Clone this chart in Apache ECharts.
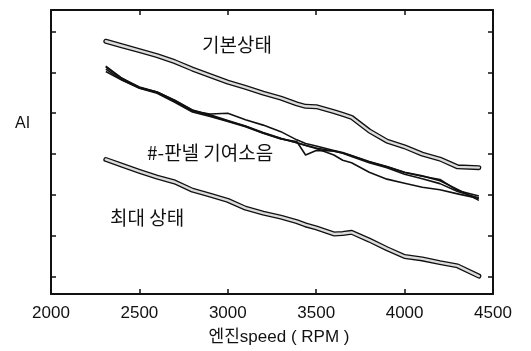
<!DOCTYPE html>
<html>
<head>
<meta charset="utf-8">
<script src="https://cdn.jsdelivr.net/npm/echarts@6/dist/echarts.min.js"></script>
<style>
  html, body { margin: 0; padding: 0; background: #fff; }
  #chart { width: 531px; height: 351px; }
</style>
</head>
<body>
<div id="chart"></div>
<script>
// engine speed grid (RPM), shared by every curve
const rpm = [2310, 2400, 2500, 2600, 2700, 2800, 2900, 3000, 3100, 3200, 3300, 3390,
  3440, 3500, 3600, 3650, 3700, 3800, 3900, 4000, 4100, 4200, 4300, 4420];

// 기본상태 (upper grey curve)
const baseState = [67.6, 66.5, 65.3, 64.1, 62.6, 60.8, 59.2, 57.6, 56.3, 54.9, 53.7, 52.3,
  51.7, 51.6, 50.4, 49.7, 49.0, 45.7, 43.2, 41.8, 40.0, 38.8, 36.9, 36.7];

// 최대 상태 (lower grey curve)
const maxState = [38.7, 37.3, 35.8, 34.4, 33.2, 31.2, 30.0, 28.7, 26.8, 25.6, 24.6, 23.5,
  22.7, 22.0, 20.5, 20.6, 20.9, 19.0, 16.9, 15.0, 14.4, 13.5, 12.7, 10.2];

// #-판넬 기여소음 (four black curves)
const panel1 = [61.3, 58.5, 56.4, 55.2, 53.1, 50.7, 49.4, 48.1, 46.8, 45.2, 43.8, 42.8,
  42.2, 41.5, 40.7, 40.3, 39.6, 38.1, 36.9, 35.5, 34.6, 33.8, 31.1, 29.8];
const panel2 = [60.8, 58.2, 56.2, 55.1, 52.9, 50.5, 49.8, 50.0, 48.4, 47.1, 45.5, 43.5,
  42.6, 42.0, 40.9, 40.4, 39.7, 38.2, 37.0, 35.6, 34.7, 33.5, 31.4, 28.7];
const panel3 = [60.2, 58.1, 56.1, 54.9, 52.7, 50.3, 49.2, 48.0, 46.7, 45.1, 43.7, 43.1,
  39.8, 40.9, 40.8, 40.2, 39.4, 37.9, 36.7, 35.1, 34.0, 32.8, 30.9, 29.3];
const panel4 = [61.5, 58.6, 56.3, 55.2, 53.2, 50.8, 49.6, 48.2, 46.9, 45.3, 43.9, 42.8,
  42.1, 41.4, 39.8, 38.5, 37.9, 35.6, 33.9, 32.9, 31.9, 31.3, 30.3, 29.2];

const xTicks = [2000, 2500, 3000, 3500, 4000, 4500];
const yTicks = [10, 20, 30, 40, 50, 60, 70];

const pairs = vals => rpm.map((r, i) => [r, vals[i]]);

const chart = echarts.init(document.getElementById('chart'));

const axisLine = { show: true, lineStyle: { color: '#111', width: 2 } };
const tickIn = { show: true, inside: true, length: 5, lineStyle: { color: '#111', width: 1.5 } };

function greyCurve(vals) {
  return [
    {
      type: 'line', data: pairs(vals), showSymbol: false, silent: true, z: 3,
      lineStyle: { color: '#111', width: 5, join: 'round', cap: 'round' }
    },
    {
      type: 'line', data: pairs(vals), showSymbol: false, silent: true, z: 4,
      lineStyle: { color: '#dcdcdc', width: 2.4, join: 'round', cap: 'round' }
    }
  ];
}

function blackCurve(vals) {
  return {
    type: 'line', data: pairs(vals), showSymbol: false, silent: true, z: 5,
    lineStyle: { color: '#111', width: 1.6, join: 'round' }
  };
}

const option = {
  animation: false,
  backgroundColor: '#fff',
  grid: { left: 51, right: 38, top: 10, bottom: 53 },
  xAxis: [
    {
      type: 'value', min: 2000, max: 4500, interval: 500, position: 'bottom',
      axisLine: axisLine, axisTick: tickIn, splitLine: { show: false },
      axisLabel: {
        color: '#111', fontSize: 17, margin: 11, fontFamily: 'Liberation Sans',
        customValues: xTicks, formatter: v => String(v)
      },
      name: '엔진speed ( RPM )', nameLocation: 'middle', nameGap: 35,
      nameTextStyle: { color: '#111', fontSize: 17, fontFamily: 'Liberation Sans, Noto Sans CJK KR', padding: [0, 0, 0, 14] }
    },
    {
      type: 'value', min: 2000, max: 4500, interval: 500, position: 'top',
      axisLine: axisLine, axisTick: tickIn, axisLabel: { show: false }, splitLine: { show: false }
    }
  ],
  yAxis: [
    {
      type: 'value', min: 5.83, max: 75.23, position: 'left',
      axisLine: axisLine, splitLine: { show: false }, axisLabel: { show: false },
      axisTick: Object.assign({}, tickIn, { customValues: yTicks })
    },
    {
      type: 'value', min: 5.83, max: 75.23, position: 'right',
      axisLine: axisLine, splitLine: { show: false }, axisLabel: { show: false },
      axisTick: Object.assign({}, tickIn, { customValues: yTicks })
    }
  ],
  graphic: [
    {
      type: 'text', left: 15, top: 116,
      style: { text: 'AI', fontSize: 16, fill: '#111', fontFamily: 'Liberation Sans' }
    },
    {
      type: 'text', left: 202, top: 35,
      style: { text: '기본상태', fontSize: 19, fill: '#111', fontFamily: 'Noto Sans CJK KR' }
    },
    {
      type: 'text', left: 147, top: 143,
      style: { text: '#-판넬 기여소음', fontSize: 19, fill: '#111', fontFamily: 'Noto Sans CJK KR' }
    },
    {
      type: 'text', left: 110, top: 208,
      style: { text: '최대 상태', fontSize: 19, fill: '#111', fontFamily: 'Noto Sans CJK KR' }
    }
  ],
  series: [
    ...greyCurve(baseState),
    ...greyCurve(maxState),
    blackCurve(panel1),
    blackCurve(panel2),
    blackCurve(panel3),
    blackCurve(panel4)
  ]
};

chart.setOption(option);
</script>
</body>
</html>
